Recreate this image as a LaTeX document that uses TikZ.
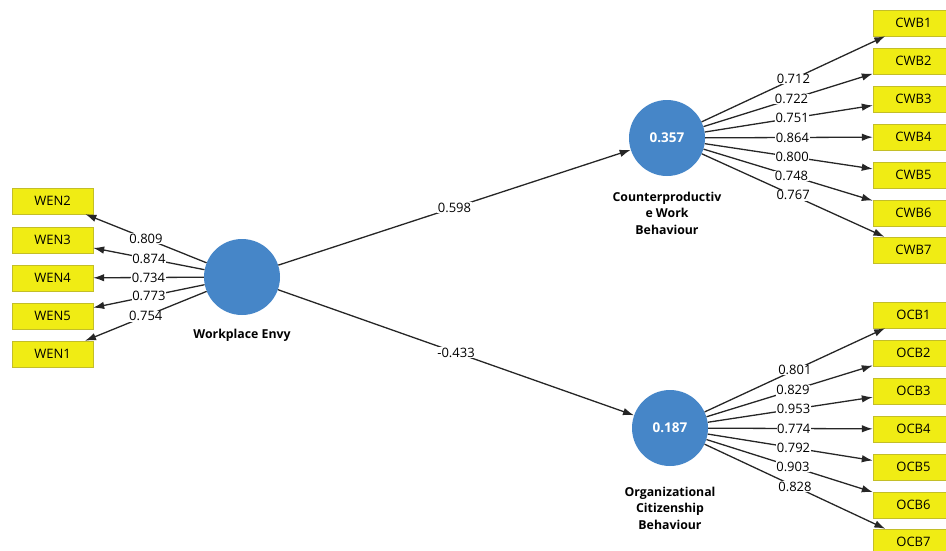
\documentclass[tikz,border=0pt]{standalone}
\usepackage{fontspec}
\setmainfont{Open Sans}
\usetikzlibrary{arrows.meta}

\definecolor{plsblue}{RGB}{70,134,200}
\definecolor{plsyellow}{RGB}{240,236,20}
\definecolor{plsedge}{RGB}{195,190,40}

\begin{document}
\begin{tikzpicture}[x=1pt, y=-1pt,
    latent/.style={circle, fill=plsblue, minimum size=76pt, inner sep=0pt, text=white, font=\fontsize{13.5}{15}\selectfont\bfseries},
    indicator/.style={rectangle, draw=plsedge, fill=plsyellow, minimum width=81pt, minimum height=26pt, inner sep=0pt, font=\fontsize{13}{15}\selectfont},
    lvname/.style={align=center, font=\fontsize{12.3}{16.5}\selectfont\bfseries},
    loading/.style={fill=white, inner sep=0.6pt, font=\fontsize{13}{14}\selectfont}]

\useasboundingbox (0,0) rectangle (946,550);
\clip (0,0) rectangle (946,550);

% latent variables
\node[latent] (we) at (242,277) {};
\node[latent] (cwb) at (667,138) {0.357};
\node[latent] (ocb) at (670,428) {0.187};

\node[lvname] (we-name) at (242,335) {Workplace Envy};
\node[lvname] (cwb-name) at (667,213) {Counterproductiv\\e Work\\Behaviour};
\node[lvname] (ocb-name) at (670,508) {Organizational\\Citizenship\\Behaviour};

% indicators
\begin{scope}[every node/.style={indicator}]
    \node (wen2) at (52.5,201) {WEN2};
    \node (wen3) at (52.5,240) {WEN3};
    \node (wen4) at (52.5,278) {WEN4};
    \node (wen5) at (52.5,316) {WEN5};
    \node (wen1) at (52.5,354) {WEN1};

    \node (cwb1) at (913.5,23) {CWB1};
    \node (cwb2) at (913.5,61) {CWB2};
    \node (cwb3) at (913.5,99) {CWB3};
    \node (cwb4) at (913.5,137) {CWB4};
    \node (cwb5) at (913.5,175) {CWB5};
    \node (cwb6) at (913.5,213) {CWB6};
    \node (cwb7) at (913.5,250) {CWB7};

    \node (ocb1) at (913.5,315) {OCB1};
    \node (ocb2) at (913.5,353) {OCB2};
    \node (ocb3) at (913.5,391) {OCB3};
    \node (ocb4) at (913.5,429) {OCB4};
    \node (ocb5) at (913.5,467) {OCB5};
    \node (ocb6) at (913.5,505) {OCB6};
    \node (ocb7) at (913.5,542) {OCB7};
\end{scope}

% paths and loadings
\begin{scope}[-{Latex[length=11pt,width=7.5pt]}, line width=1.3pt, draw=black!85]
    \draw (we) -- node[loading, pos=0.5] {0.598} (cwb);
    \draw (we) -- node[loading, pos=0.5] {-0.433} (ocb);

    \draw (we) -- node[loading, pos=0.5] {0.809} (wen2);
    \draw (we) -- node[loading, pos=0.5] {0.874} (wen3);
    \draw (we) -- node[loading, pos=0.5] {0.734} (wen4);
    \draw (we) -- node[loading, pos=0.5] {0.773} (wen5);
    \draw (we) -- node[loading, pos=0.5] {0.754} (wen1);

    \draw (cwb) -- node[loading, pos=0.5] {0.712} (cwb1);
    \draw (cwb) -- node[loading, pos=0.52] {0.722} (cwb2);
    \draw (cwb) -- node[loading, pos=0.52] {0.751} (cwb3);
    \draw (cwb) -- node[loading, pos=0.52] {0.864} (cwb4);
    \draw (cwb) -- node[loading, pos=0.52] {0.800} (cwb5);
    \draw (cwb) -- node[loading, pos=0.52] {0.748} (cwb6);
    \draw (cwb) -- node[loading, pos=0.5] {0.767} (cwb7);

    \draw (ocb) -- node[loading, pos=0.5] {0.801} (ocb1);
    \draw (ocb) -- node[loading, pos=0.52] {0.829} (ocb2);
    \draw (ocb) -- node[loading, pos=0.52] {0.953} (ocb3);
    \draw (ocb) -- node[loading, pos=0.52] {0.774} (ocb4);
    \draw (ocb) -- node[loading, pos=0.52] {0.792} (ocb5);
    \draw (ocb) -- node[loading, pos=0.52] {0.903} (ocb6);
    \draw (ocb) -- node[loading, pos=0.5] {0.828} (ocb7);
\end{scope}

\end{tikzpicture}
\end{document}
